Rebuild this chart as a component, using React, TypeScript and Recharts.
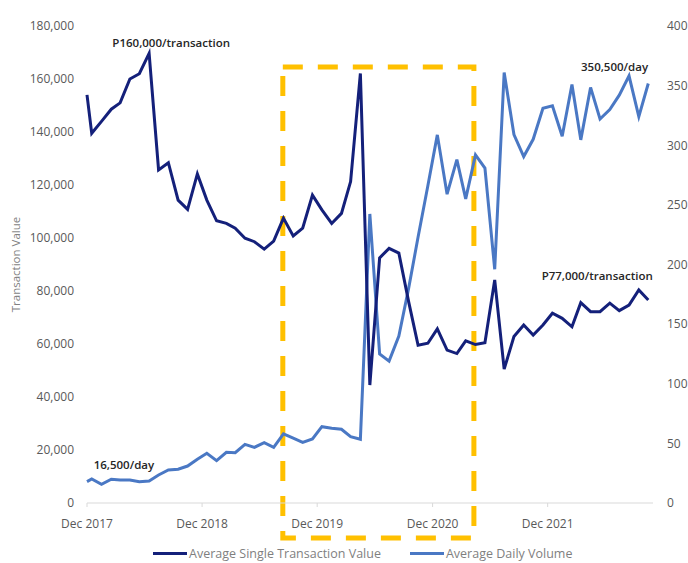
import {
  Legend,
  Line,
  LineChart,
  ReferenceArea,
  ReferenceDot,
  XAxis,
  YAxis,
} from 'recharts'

// first reading at start of Dec 2017, then mid-month averages
const dates = [
  '2017-12-01', '2017-12-16',
  '2018-01-16', '2018-02-16', '2018-03-16', '2018-04-16', '2018-05-16', '2018-06-16',
  '2018-07-16', '2018-08-16', '2018-09-16', '2018-10-16', '2018-11-16', '2018-12-16',
  '2019-01-16', '2019-02-16', '2019-03-16', '2019-04-16', '2019-05-16', '2019-06-16',
  '2019-07-16', '2019-08-16', '2019-09-16', '2019-10-16', '2019-11-16', '2019-12-16',
  '2020-01-16', '2020-02-16', '2020-03-16', '2020-04-16', '2020-05-16', '2020-06-16',
  '2020-07-16', '2020-08-16', '2020-09-16', '2020-10-16', '2020-11-16', '2020-12-16',
  '2021-01-16', '2021-02-16', '2021-03-16', '2021-04-16', '2021-05-16', '2021-06-16',
  '2021-07-16', '2021-08-16', '2021-09-16', '2021-10-16', '2021-11-16', '2021-12-16',
  '2022-01-16', '2022-02-16', '2022-03-16', '2022-04-16', '2022-05-16', '2022-06-16',
  '2022-07-16', '2022-08-16', '2022-09-16', '2022-10-16',
]

const transactionValue = [
  154000, 139500,
  144000, 148600, 151000, 160000, 162000, 169700, 125700, 128400, 114300, 110800, 124200, 114300,
  106500, 105500, 103700, 99900, 98600, 95800, 98800, 107500, 100800, 103700, 116200, 110600,
  105500, 109300, 121300, 162100, 44500, 92500, 96100, 94300, 76000, 59500, 60300, 65700,
  57700, 56400, 61200, 59800, 60500, 84200, 50500, 62800, 67200, 63400, 67200, 71600,
  69700, 66500, 75600, 72200, 72200, 75400, 72600, 74700, 80400, 76600,
]

// thousands of transactions per day
const dailyVolume = [
  17.9, 20.1,
  15.7, 19.9, 19.3, 19.3, 17.9, 18.5, 23.5, 27.7, 28.3, 31.0, 36.7, 41.7,
  35.5, 42.5, 42.2, 49.2, 46.7, 50.6, 46.7, 57.9, 54.3, 50.9, 53.7, 64.0,
  62.7, 61.8, 55.6, 53.4, 242.4, 125, 119, 140, 180, 223, 266, 308.7,
  259, 288, 255, 291.9, 280.8, 196, 361, 309, 290.5, 305, 331, 333,
  307.5, 351, 304.5, 348.5, 322, 330, 342, 358.2, 324, 351.8,
]

const xTicks = ['2017-12-01', '2018-12-01', '2019-12-01', '2020-12-01', '2021-12-01']
const leftTicks = [0, 20000, 40000, 60000, 80000, 100000, 120000, 140000, 160000, 180000]
const rightTicks = [0, 50, 100, 150, 200, 250, 300, 350, 400]

const ts = (d: string) => Date.parse(d + 'T00:00:00Z')

const data = dates.map((d, i) => ({
  time: ts(d),
  value: transactionValue[i],
  volume: dailyVolume[i],
}))

const DARK = '#14207a'
const LIGHT = '#4a78c4'
const YELLOW = '#ffc000'
const FONT = "'Open Sans', sans-serif"
const MONTHS = ['Jan', 'Feb', 'Mar', 'Apr', 'May', 'Jun', 'Jul', 'Aug', 'Sep', 'Oct', 'Nov', 'Dec']

function formatMonth(t: number): string {
  const d = new Date(t)
  return `${MONTHS[d.getUTCMonth()]} ${d.getUTCFullYear()}`
}

function YTitle({ viewBox }: any) {
  const cx = viewBox.x + 15
  const cy = viewBox.y + viewBox.height / 2
  return (
    <text
      x={cx}
      y={cy}
      transform={`rotate(-90, ${cx}, ${cy})`}
      textAnchor="middle"
      dominantBaseline="central"
      fill="#7f7f7f"
      fontSize={11.5}
      fontFamily={FONT}
    >
      Transaction Value
    </text>
  )
}

function LegendContent() {
  const items = [
    { name: 'Average Single Transaction Value', color: DARK },
    { name: 'Average Daily Volume', color: LIGHT },
  ]
  return (
    <div style={{ display: 'flex', alignItems: 'center', fontFamily: FONT, fontSize: 12.5, color: '#7f7f7f' }}>
      {items.map((it, i) => (
        <div key={it.name} style={{ display: 'flex', alignItems: 'center', marginLeft: i ? 29 : 0 }}>
          <span style={{ display: 'inline-block', width: 34, height: 3, background: it.color }} />
          <span style={{ marginLeft: 2 }}>{it.name}</span>
        </div>
      ))}
    </div>
  )
}

const annotationStyle = { fill: '#262626', fontSize: 11.5, fontWeight: 600, fontFamily: FONT }

export default function App() {
  return (
    <div style={{ position: 'absolute', left: 0, top: 0, background: '#fff' }}>
      <LineChart
        width={688}
        height={563}
        data={data}
        margin={{ top: 26, right: 0, bottom: 30, left: 0 }}
      >
        <XAxis
          dataKey="time"
          type="number"
          domain={[ts('2017-12-01'), ts('2022-10-31')]}
          ticks={xTicks.map(ts)}
          tickFormatter={formatMonth}
          stroke="#d9d9d9"
          tickSize={4}
          tickMargin={12}
          height={30}
          tick={{ fill: '#595959', fontSize: 12, fontFamily: FONT }}
        />
        <YAxis
          yAxisId="left"
          domain={[0, 180000]}
          ticks={leftTicks}
          tickFormatter={(v: number) => v.toLocaleString('en-US')}
          width={87}
          axisLine={false}
          tickLine={false}
          tickMargin={7}
          tick={{ fill: '#595959', fontSize: 12, fontFamily: FONT }}
          label={{ content: YTitle }}
        />
        <YAxis
          yAxisId="right"
          orientation="right"
          domain={[0, 400]}
          ticks={rightTicks}
          width={35}
          axisLine={false}
          tickLine={false}
          tickMargin={8}
          tick={{ fill: '#595959', fontSize: 12, fontFamily: FONT, textAnchor: 'start' }}
        />
        <ReferenceArea
          yAxisId="left"
          x1={ts('2019-08-14')}
          x2={ts('2021-04-11')}
          y1={-13200}
          y2={164500}
          ifOverflow="visible"
          fill="none"
          fillOpacity={0}
          stroke={YELLOW}
          strokeWidth={5}
          strokeDasharray="20 15"
        />
        <Line
          yAxisId="right"
          type="linear"
          dataKey="volume"
          name="Average Daily Volume"
          stroke={LIGHT}
          strokeWidth={3}
          dot={false}
          isAnimationActive={false}
        />
        <Line
          yAxisId="left"
          type="linear"
          dataKey="value"
          name="Average Single Transaction Value"
          stroke={DARK}
          strokeWidth={3}
          dot={false}
          isAnimationActive={false}
        />
        <ReferenceDot
          yAxisId="left"
          x={ts('2018-08-25')}
          y={173600}
          r={0}
          ifOverflow="visible"
          label={{ value: 'P160,000/transaction', position: 'center', ...annotationStyle }}
        />
        <ReferenceDot
          yAxisId="left"
          x={ts('2022-07-01')}
          y={164500}
          r={0}
          ifOverflow="visible"
          label={{ value: '350,500/day', position: 'center', ...annotationStyle }}
        />
        <ReferenceDot
          yAxisId="left"
          x={ts('2022-05-07')}
          y={85700}
          r={0}
          ifOverflow="visible"
          label={{ value: 'P77,000/transaction', position: 'center', ...annotationStyle }}
        />
        <ReferenceDot
          yAxisId="left"
          x={ts('2018-03-28')}
          y={14300}
          r={0}
          ifOverflow="visible"
          label={{ value: '16,500/day', position: 'center', ...annotationStyle }}
        />
        <Legend
          verticalAlign="middle"
          align="center"
          content={<LegendContent />}
          wrapperStyle={{ left: 153, top: 545, width: 480 }}
        />
      </LineChart>
    </div>
  )
}
